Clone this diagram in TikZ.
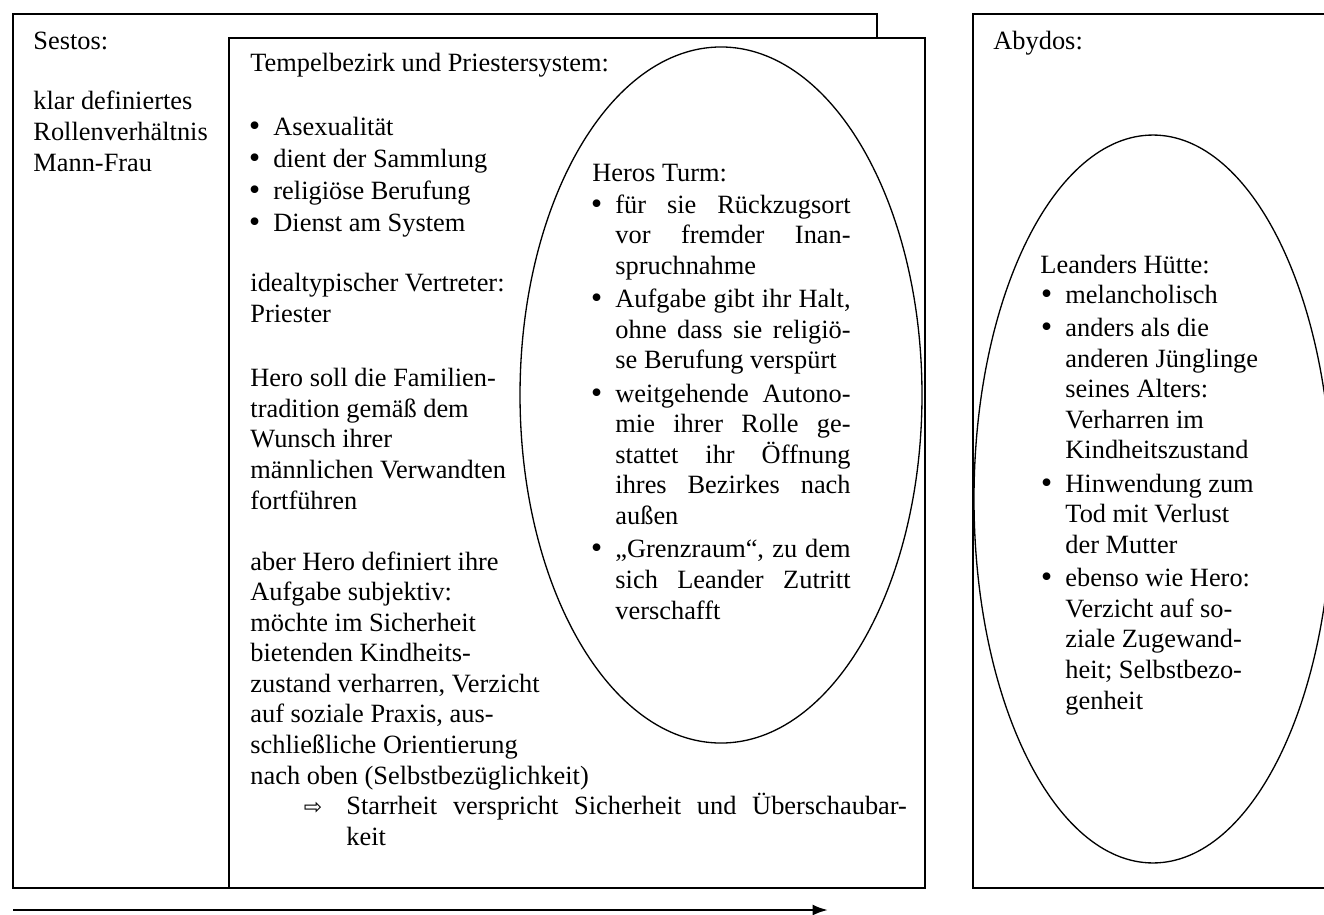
\documentclass[tikz,border=0pt]{standalone}
\usepackage{fontspec}
\setmainfont{Liberation Serif}
\newfontfamily\symbolfont{DejaVu Sans}
\usetikzlibrary{shapes.geometric,arrows.meta}
\newcommand{\blt}{\llap{{\symbolfont •}\kern 5pt}}
\newcommand{\jline}[1]{\makebox[107pt][s]{#1}}
\begin{document}
\begin{tikzpicture}
[x=0.455pt,y=-0.455pt,
  framedecorate/.style={draw,line width=1pt,fill=white,inner sep=0pt},
  ovaldecorate/.style={shape=ellipse,draw,line width=0.6pt,inner sep=0pt},
  textdecorate/.style={anchor=base west,inner sep=0pt,align=left,
    font=\fontsize{12}{13.9}\selectfont},
  arrowdecorate/.style={-{Latex[length=7pt,width=5pt]},line width=1.1pt}]
\useasboundingbox (0,0) rectangle (1324,915);
%% frames and ovals
\node (sestos) at (445,451) [framedecorate,minimum width=393.1pt,minimum height=397.7pt] {};
\node (tempel) at (577,463) [framedecorate,minimum width=316.7pt,minimum height=386.8pt] {};
\draw[line width=1pt] (1324,14) -| (973,888) -- (1324,888);
\node (turm) at (721,395) [ovaldecorate,minimum width=182.9pt,minimum height=316.7pt] {};
\node (huette) at (1153,499) [ovaldecorate,minimum width=162.9pt,minimum height=331.2pt] {};
%% headings
\foreach \nodename/\x/\y/\content in {sestoskopf/33/50/{Sestos:},
  abydoskopf/993/50/{Abydos:}, tempelkopf/250/72/{Tempelbezirk und Priestersystem:},
  turmkopf/592/181/{Heros Turm:}, huettekopf/1040/273/{Leanders Hütte:}} {
  \node (\nodename) at (\x,\y) [textdecorate] {\content};
}
%% text blocks (y = baseline of the last line)
\node (rollen) at (33,171) [textdecorate] {klar definiertes\\Rollenverhältnis\\Mann-Frau};
\node (tempelliste) at (273,231) [textdecorate]
  {\blt Asexualität\\[0.6pt]\blt dient der Sammlung\\[0.6pt]
   \blt religiöse Berufung\\[0.6pt]\blt Dienst am System};
\node (vertreter) at (250,322) [textdecorate] {idealtypischer Vertreter:\\Priester};
\node (tradition) at (250,509) [textdecorate]
  {Hero soll die Familien-\\tradition gemäß dem\\Wunsch ihrer\\
   männlichen Verwandten\\fortführen};
\node (aufgabe) at (250,784) [textdecorate]
  {aber Hero definiert ihre\\Aufgabe subjektiv:\\möchte im Sicherheit\\
   bietenden Kindheits-\\zustand verharren, Verzicht\\auf soziale Praxis, aus-\\
   schließliche Orientierung\\nach oben (Selbstbezüglichkeit)};
\node (starrheit) at (346,845) [textdecorate]
  {\llap{\symbolfont\fontsize{10}{10}\selectfont ⇨\kern 11pt}%
   \makebox[255pt][s]{Starrheit verspricht Sicherheit und Überschaubar-}\\keit};
\node (turmliste) at (615,619) [textdecorate]
  {\blt\jline{für sie Rückzugsort}\\\jline{vor fremder Inan-}\\spruchnahme\\[1.3pt]
   \blt\jline{Aufgabe gibt ihr Halt,}\\\jline{ohne dass sie religiö-}\\se Berufung verspürt\\[1.3pt]
   \blt\jline{weitgehende Autono-}\\\jline{mie ihrer Rolle ge-}\\\jline{stattet ihr Öffnung}\\
   \jline{ihres Bezirkes nach}\\außen\\[1.3pt]
   \blt\jline{„Grenzraum“, zu dem}\\\jline{sich Leander Zutritt}\\verschafft};
\node (huetteliste) at (1065,709) [textdecorate]
  {\blt melancholisch\\[1.3pt]
   \blt anders als die\\anderen Jünglinge\\seines Alters:\\Verharren im\\Kindheitszustand\\[1.3pt]
   \blt Hinwendung zum\\Tod mit Verlust\\der Mutter\\[1.3pt]
   \blt ebenso wie Hero:\\Verzicht auf so-\\ziale Zugewand-\\heit; Selbstbezo-\\genheit};
%% time line
\coordinate (zeitstart) at (13,910);
\coordinate (zeitende) at (828,910);
\draw[arrowdecorate] (zeitstart) -- (zeitende);
\end{tikzpicture}
\end{document}
